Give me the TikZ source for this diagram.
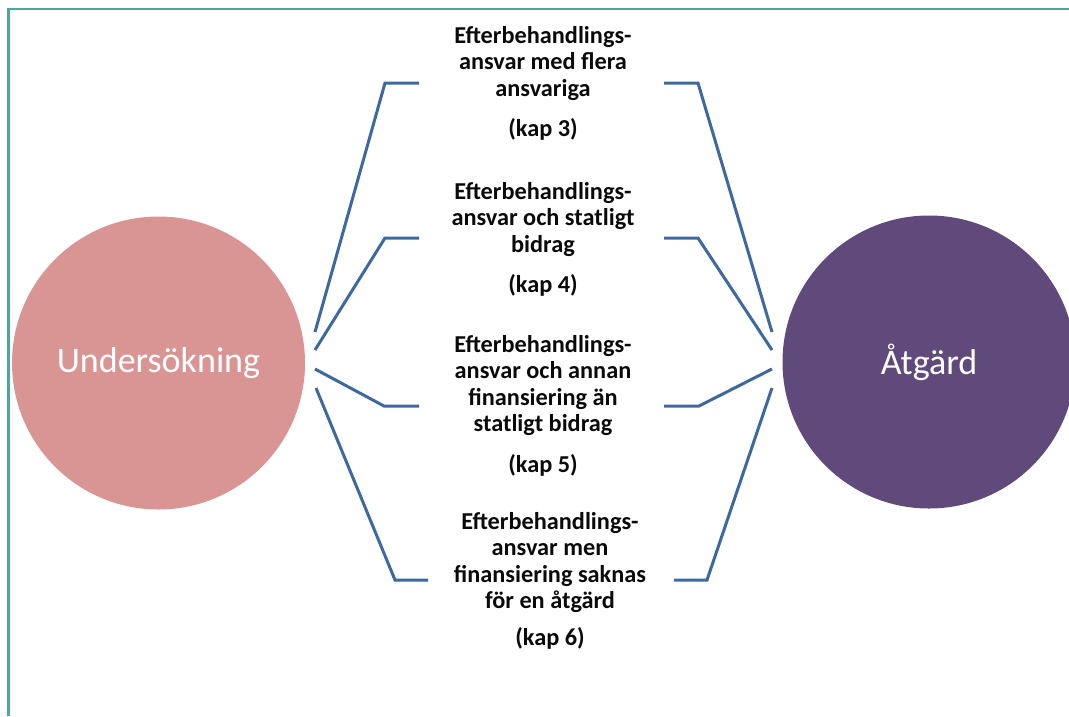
\documentclass[tikz,border=0pt]{standalone}
\usepackage{fontspec}
\setmainfont{Carlito}
\definecolor{framec}{HTML}{4AA89C}
\definecolor{linkc}{HTML}{3E68A0}
\definecolor{pinkc}{HTML}{D99594}
\definecolor{purplec}{HTML}{604A7B}
\definecolor{textc}{HTML}{0A0A0A}
\tikzset{
  conn/.style={draw=linkc, line width=3pt, line join=miter},
  bigcirc/.style={circle, inner sep=0pt, minimum size=293pt, text=white, font=\fontsize{36}{40}\selectfont},
  label/.style={align=center, inner sep=0pt, anchor=north, text=textc, font=\bfseries\fontsize{24.3}{26.5}\selectfont}
}
\begin{document}
\begin{tikzpicture}[x=1pt,y=-1pt]
\useasboundingbox (0,0) rectangle (1069,716);
\draw[framec, line width=2.2pt] (8.5,716) -- (8.5,9) -- (1069,9);

\node[bigcirc, fill=pinkc] (und) at (158.5,363) {Undersökning};
\node[bigcirc, fill=purplec] (atg) at (929,362) {Åtgärd};

\node[label] (t1) at (543,26) {Efterbehandlings-\\ansvar med flera\\ansvariga\\[14pt](kap 3)};
\node[label] (t2) at (543,182) {Efterbehandlings-\\ansvar och statligt\\bidrag\\[14pt](kap 4)};
\node[label] (t3) at (543,335) {Efterbehandlings-\\ansvar och annan\\finansiering än\\statligt bidrag\\[14pt](kap 5)};
\node[label] (t4) at (550,512) {Efterbehandlings-\\ansvar men\\finansiering saknas\\för en åtgärd\\[10pt](kap 6)};

% left brackets
\coordinate (la1) at (315,332); \coordinate (lb1) at (385,83);  \coordinate (lc1) at (419,83);
\coordinate (la2) at (315,350); \coordinate (lb2) at (385,238); \coordinate (lc2) at (419,238);
\coordinate (la3) at (315,369); \coordinate (lb3) at (384,406); \coordinate (lc3) at (419,406);
\coordinate (la4) at (316,388); \coordinate (lb4) at (395,580); \coordinate (lc4) at (428,580);
% right brackets
\coordinate (ra1) at (772,332); \coordinate (rb1) at (698,83);  \coordinate (rc1) at (664,83);
\coordinate (ra2) at (772,350); \coordinate (rb2) at (698,238); \coordinate (rc2) at (664,238);
\coordinate (ra3) at (772,369); \coordinate (rb3) at (699,406); \coordinate (rc3) at (664,406);
\coordinate (ra4) at (772,388); \coordinate (rb4) at (707,580); \coordinate (rc4) at (674,580);

\foreach \i in {1,2,3,4}{
  \draw[conn] (la\i) -- (lb\i) -- (lc\i);
  \draw[conn] (ra\i) -- (rb\i) -- (rc\i);
}
\end{tikzpicture}
\end{document}
